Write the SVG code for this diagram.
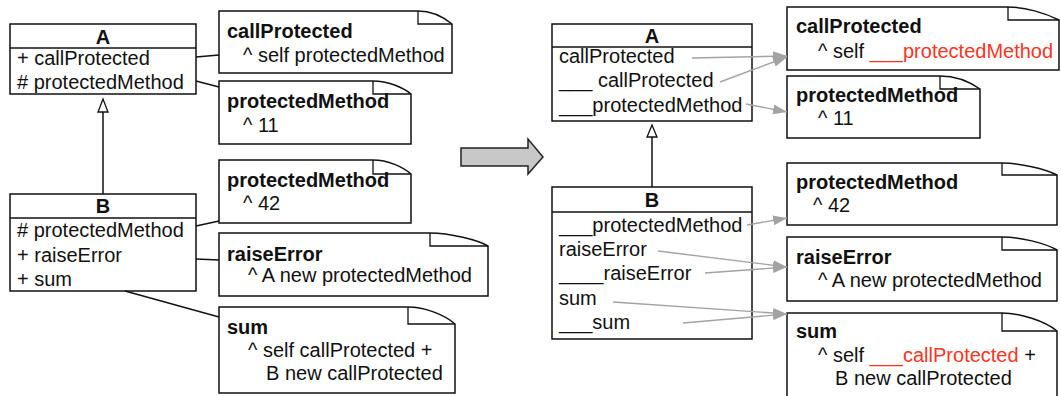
<svg xmlns="http://www.w3.org/2000/svg" width="1061" height="396" viewBox="0 0 1061 396">
<defs>
<style>
.box{fill:#fff;stroke:#111;stroke-width:1.5}
.ln{fill:none;stroke:#111;stroke-width:1.5}
.fold{fill:none;stroke:#111;stroke-width:1.3}
.con{fill:none;stroke:#111;stroke-width:1.3}
.g{fill:none;stroke:#a3a3a3;stroke-width:1.4;marker-end:url(#ah)}
text{font-family:"Liberation Sans",Arial,Helvetica,sans-serif;font-size:20px;fill:#111}
.b{font-weight:bold}
.c{text-anchor:middle}
.red{fill:#ff3322}
</style>
<marker id="ah" markerWidth="14" markerHeight="10" refX="14" refY="5" orient="auto" markerUnits="userSpaceOnUse"><path d="M0,0 L14,5 L0,10 Z" fill="#a3a3a3"/></marker>
</defs>

<g id="classA-left">
<rect class="box" x="10" y="24" width="186" height="70"/>
<line class="ln" x1="10" y1="48" x2="196" y2="48"/>
<text class="b c" x="103" y="44">A</text>
<text x="17" y="65">+ callProtected</text>
<text x="17" y="89"># protectedMethod</text>
</g>

<g id="classB-left">
<rect class="box" x="10" y="194" width="186" height="97"/>
<line class="ln" x1="10" y1="218" x2="196" y2="218"/>
<text class="b c" x="103" y="213">B</text>
<text x="17" y="237"># protectedMethod</text>
<text x="17" y="262">+ raiseError</text>
<text x="17" y="286">+ sum</text>
</g>

<g id="noteL1">
<path class="box" d="M219,11 H418 C433,11 444,17.5 452,24 V73 H219 Z"/>
<path class="fold" d="M418,11 V24 H452"/>
<text class="b" x="227" y="38">callProtected</text>
<text x="243" y="62">^ self protectedMethod</text>
</g>
<g id="noteL2">
<path class="box" d="M219,81 H373 C388,81 403,87.5 411,94 V144 H219 Z"/>
<path class="fold" d="M373,81 V94 H411"/>
<text class="b" x="227" y="108">protectedMethod</text>
<text x="243" y="132">^ 11</text>
</g>
<g id="noteL3">
<path class="box" d="M219,160 H373 C388,160 403,167 411,174 V223 H219 Z"/>
<path class="fold" d="M373,160 V174 H411"/>
<text class="b" x="227" y="187">protectedMethod</text>
<text x="243" y="210">^ 42</text>
</g>
<g id="noteL4">
<path class="box" d="M219,233 H430 C450,233 478,240 488,246 V296 H219 Z"/>
<path class="fold" d="M430,233 V246 H488"/>
<text class="b" x="227" y="261">raiseError</text>
<text x="248" y="282">^ A new protectedMethod</text>
</g>
<g id="noteL5">
<path class="box" d="M219,307 H408 C425,307 445,315 455,324 V393 H219 Z"/>
<path class="fold" d="M408,307 V324 H455"/>
<text class="b" x="227" y="334">sum</text>
<text x="248" y="357">^ self callProtected +</text>
<text x="266" y="380">B new callProtected</text>
</g>

<g id="transform-arrow">
<polygon points="461,148 528,148 528,139 543,157 528,174 528,166 461,166" fill="#c8c8c8" stroke="#222" stroke-width="1.5"/>
</g>

<g id="classA-right">
<rect class="box" x="552" y="24" width="200" height="97"/>
<line class="ln" x1="552" y1="47" x2="752" y2="47"/>
<text class="b c" x="652" y="43">A</text>
<text x="559" y="63">callProtected</text>
<text x="559" y="87">___ callProtected</text>
<text x="559" y="112">___protectedMethod</text>
</g>

<g id="classB-right">
<rect class="box" x="552" y="187" width="200" height="152"/>
<line class="ln" x1="552" y1="212" x2="752" y2="212"/>
<text class="b c" x="652" y="207">B</text>
<text x="559" y="232">___protectedMethod</text>
<text x="559" y="256">raiseError</text>
<text x="559" y="280">____raiseError</text>
<text x="559" y="305">sum</text>
<text x="559" y="329">___sum</text>
</g>

<g id="noteR1">
<path class="box" d="M787,7 H1008 C1025,7 1045,13 1059,20 V70 H787 Z"/>
<path class="fold" d="M1008,7 V20 H1059"/>
<text class="b" x="796" y="33">callProtected</text>
<text x="818" y="58">^ self <tspan class="red">___protectedMethod</tspan></text>
</g>
<g id="noteR2">
<path class="box" d="M787,76 H940 C955,76 970,82 980,89 V138 H787 Z"/>
<path class="fold" d="M940,76 V89 H980"/>
<text class="b" x="796" y="102">protectedMethod</text>
<text x="818" y="125">^ 11</text>
</g>
<g id="noteR3">
<path class="box" d="M787,163 H1002 C1020,163 1045,169 1057,175 V225 H787 Z"/>
<path class="fold" d="M1002,163 V175 H1057"/>
<text class="b" x="796" y="189">protectedMethod</text>
<text x="813" y="212">^ 42</text>
</g>
<g id="noteR4">
<path class="box" d="M787,237 H1002 C1020,237 1045,243 1057,250 V301 H787 Z"/>
<path class="fold" d="M1002,237 V250 H1057"/>
<text class="b" x="796" y="264">raiseError</text>
<text x="818" y="287">^ A new protectedMethod</text>
</g>
<g id="noteR5">
<path class="box" d="M787,313 H1002 C1020,313 1045,321 1057,331 V400 H787 Z"/>
<path class="fold" d="M1002,313 V331 H1057"/>
<text class="b" x="796" y="338">sum</text>
<text x="818" y="362">^ self <tspan class="red">___callProtected</tspan> +</text>
<text x="835" y="385">B new callProtected</text>
</g>

<g id="connectors">
<line class="con" x1="196" y1="57" x2="219" y2="55"/>
<line class="con" x1="196" y1="81" x2="219" y2="87"/>
<line class="con" x1="196" y1="226" x2="219" y2="221"/>
<line class="con" x1="196" y1="259" x2="219" y2="260"/>
<line class="con" x1="125" y1="291" x2="219" y2="317"/>
<line class="ln" x1="103" y1="194" x2="103" y2="112"/>
<polygon points="103,99 98,112 108,112" fill="#fff" stroke="#111" stroke-width="1.3"/>
<line class="ln" x1="652" y1="187" x2="652" y2="137"/>
<polygon points="652,125 647,137 657,137" fill="#fff" stroke="#111" stroke-width="1.3"/>
<line class="g" x1="692" y1="58" x2="787" y2="56"/>
<line class="g" x1="720" y1="82" x2="787" y2="57"/>
<line class="g" x1="746" y1="104" x2="787" y2="112"/>
<line class="g" x1="747" y1="225" x2="787" y2="218"/>
<line class="g" x1="658" y1="251" x2="787" y2="267"/>
<line class="g" x1="705" y1="273" x2="787" y2="267"/>
<line class="g" x1="613" y1="302" x2="787" y2="314"/>
<line class="g" x1="683" y1="323" x2="787" y2="314"/>
</g>
</svg>
